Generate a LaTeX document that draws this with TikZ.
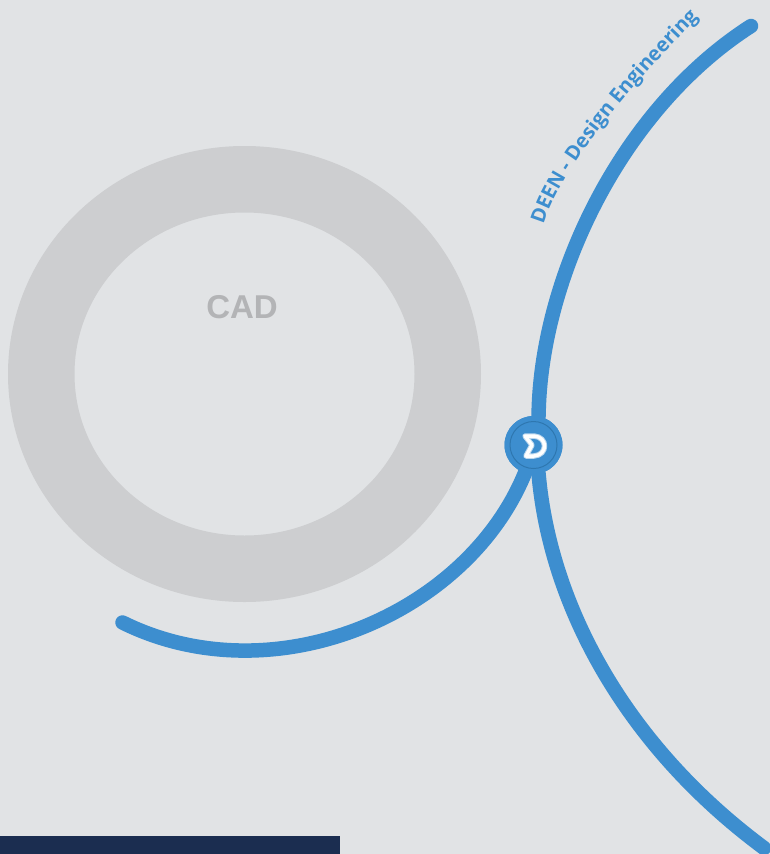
\documentclass[tikz,border=0pt]{standalone}
\usepackage{fontspec}
\setmainfont{Open Sans}
\newfontfamily\cadfont{Liberation Sans}
\usetikzlibrary{decorations.text}
\definecolor{pagegrey}{HTML}{E1E3E5}
\definecolor{ringgrey}{HTML}{CDCED0}
\definecolor{cadgrey}{HTML}{B3B4B6}
\definecolor{deenblue}{HTML}{3D8ECF}
\definecolor{hubdark}{HTML}{2E77B0}
\definecolor{barnavy}{HTML}{1B2D50}
\begin{document}
\begin{tikzpicture}[x=1pt, y=-1pt, >=stealth,
        arcline/.style={draw=deenblue, line width=14.5pt, line cap=round},
        hubnode/.style={circle, fill=deenblue, minimum size=58pt, inner sep=0pt}]
        \useasboundingbox (0,0) rectangle (770,854);
        \fill[pagegrey] (0,0) rectangle (770,854);

        % 灰色圆环
        \fill[ringgrey, even odd rule] (244.5,374) ellipse [x radius=236.5, y radius=228]
            (244.5,374) ellipse [x radius=170, y radius=161.5];
        \node[text=cadgrey, font=\cadfont\bfseries\fontsize{33}{33}\selectfont] (cad) at (242,307) {CAD};

        % 节点与端点
        \node[hubnode] (hub) at (533.5,445) {};
        \coordinate (topend) at (751,26);
        \coordinate (bottomend) at (764,848);
        \coordinate (leftend) at (122.5,622.5);

        % 三条弧线
        \draw[arcline] (hub.80) .. controls (540,280) and (620,110) .. (topend);
        \draw[arcline] (hub.-80) .. controls (550,605) and (625,745) .. (bottomend);
        \draw[arcline] (hub.-107) .. controls (467,615) and (273,697) .. (leftend);

        % 中心标志
        \node[hubnode] at (hub) {};
        \draw[hubdark, line width=1pt] (hub) circle (23.5);
        \draw[white!65!deenblue, line width=5.5pt, line join=round] (525,436) -- (534,436)
            .. controls (548,437) and (548,455) .. (534,456) -- (526,456) -- (532,445) -- cycle;
        \draw[white, line width=3.5pt, line join=round] (525,436) -- (534,436)
            .. controls (548,437) and (548,455) .. (534,456) -- (526,456) -- (532,445) -- cycle;

        % 弧线旁文字
        \path[decorate, decoration={text along path, text align=center,
            text={|\fontsize{20}{20}\selectfont\bfseries\color{deenblue}|DEEN - Design Engineering}}]
            (545,220) .. controls (560,175) and (612,105) .. (695,21);

        \fill[barnavy] (0,836) rectangle (340,854);
    \end{tikzpicture}
\end{document}
